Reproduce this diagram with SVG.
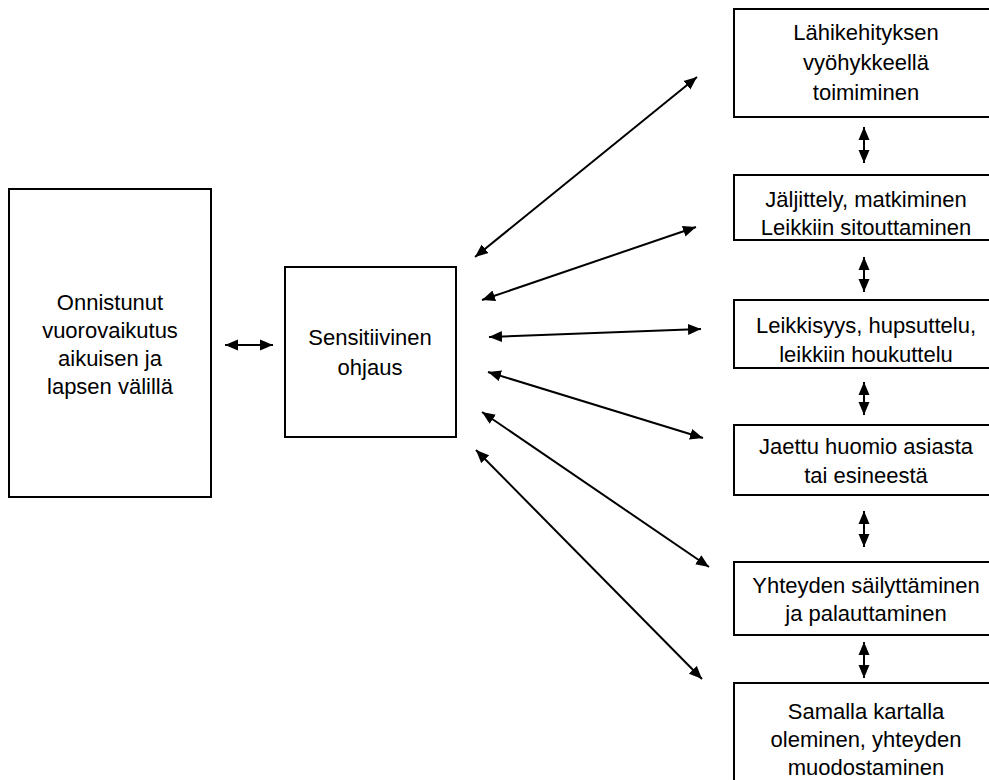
<svg xmlns="http://www.w3.org/2000/svg" width="989" height="780" viewBox="0 0 989 780">
<defs>
<marker id="ah" markerUnits="userSpaceOnUse" markerWidth="14" markerHeight="12" refX="13" refY="5.5" orient="auto-start-reverse" viewBox="0 0 14 11">
<path d="M0,0 L13,5.5 L0,11 z" fill="#000"/>
</marker>
<style>
.box{fill:#fff;stroke:#000;stroke-width:2}
.t{font-family:"Liberation Sans",Arial,sans-serif;font-size:22px;fill:#000;text-anchor:middle}
.c{stroke:#000;stroke-width:2;fill:none;marker-start:url(#ah);marker-end:url(#ah)}
</style>
</defs>
<rect width="989" height="780" fill="#fff"/>
<g id="node-vuorovaikutus">
<rect class="box" x="9" y="189" width="202" height="308"/>
<text class="t" x="110" y="310">Onnistunut</text>
<text class="t" x="110" y="338">vuorovaikutus</text>
<text class="t" x="110" y="366">aikuisen ja</text>
<text class="t" x="110" y="394">lapsen välillä</text>
</g>
<g id="node-sensitiivinen">
<rect class="box" x="285" y="267" width="171" height="170"/>
<text class="t" x="370" y="345">Sensitiivinen</text>
<text class="t" x="370" y="375">ohjaus</text>
</g>
<g id="node-lahikehitys">
<rect class="box" x="734" y="9" width="270" height="108"/>
<text class="t" x="866" y="40">Lähikehityksen</text>
<text class="t" x="866" y="70">vyöhykkeellä</text>
<text class="t" x="866" y="100">toimiminen</text>
</g>
<g id="node-jaljittely">
<rect class="box" x="734" y="175" width="270" height="65"/>
<text class="t" x="866" y="207">Jäljittely, matkiminen</text>
<text class="t" x="866" y="235">Leikkiin sitouttaminen</text>
</g>
<g id="node-leikkisyys">
<rect class="box" x="734" y="300" width="270" height="68"/>
<text class="t" x="866" y="333">Leikkisyys, hupsuttelu,</text>
<text class="t" x="866" y="362">leikkiin houkuttelu</text>
</g>
<g id="node-jaettu">
<rect class="box" x="734" y="425" width="270" height="70"/>
<text class="t" x="866" y="454">Jaettu huomio asiasta</text>
<text class="t" x="866" y="483">tai esineestä</text>
</g>
<g id="node-yhteys">
<rect class="box" x="734" y="562" width="270" height="73"/>
<text class="t" x="866" y="593">Yhteyden säilyttäminen</text>
<text class="t" x="866" y="621">ja palauttaminen</text>
</g>
<g id="node-samalla">
<rect class="box" x="734" y="683" width="270" height="110"/>
<text class="t" x="866" y="719">Samalla kartalla</text>
<text class="t" x="866" y="747">oleminen, yhteyden</text>
<text class="t" x="866" y="775">muodostaminen</text>
</g>
<g id="connectors">
<line class="c" x1="225" y1="345" x2="273" y2="345"/>
<line class="c" x1="475" y1="257" x2="697" y2="77"/>
<line class="c" x1="482" y1="300" x2="696" y2="227"/>
<line class="c" x1="489" y1="337" x2="701" y2="329"/>
<line class="c" x1="488" y1="372" x2="703" y2="438"/>
<line class="c" x1="482" y1="412" x2="709" y2="567"/>
<line class="c" x1="476" y1="450" x2="702" y2="679"/>
<line class="c" x1="864" y1="127" x2="864" y2="163"/>
<line class="c" x1="864" y1="257" x2="864" y2="292"/>
<line class="c" x1="864" y1="382" x2="864" y2="415"/>
<line class="c" x1="864" y1="511" x2="864" y2="547"/>
<line class="c" x1="864" y1="642" x2="864" y2="678"/>
</g>
</svg>
